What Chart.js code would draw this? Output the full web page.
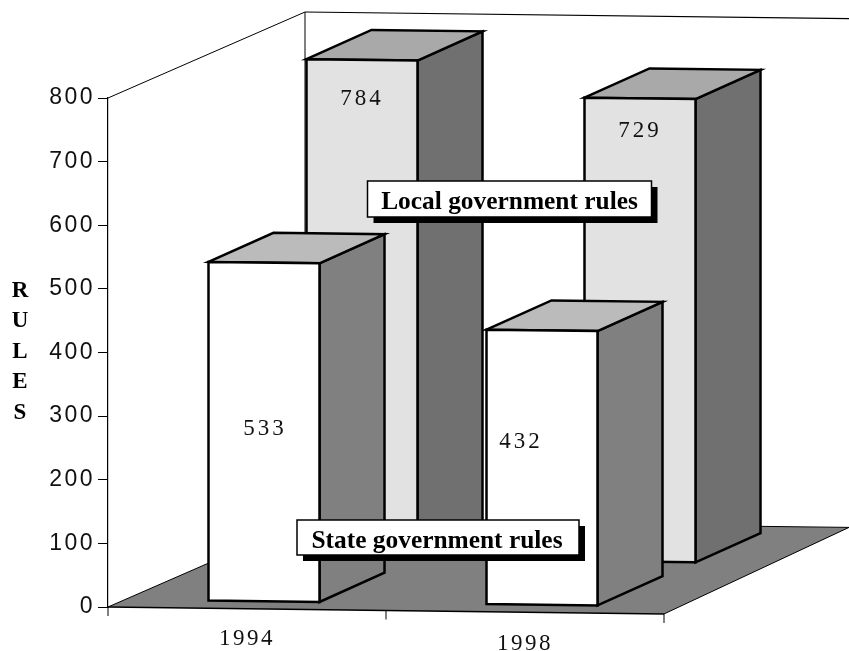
<!DOCTYPE html>
<html>
<head>
<meta charset="utf-8">
<title>Rules</title>
<script src="https://cdn.jsdelivr.net/npm/chart.js@4"></script>
<style>
  html, body { margin: 0; background: #fff; }
  #wrap { width: 849px; height: 651px; }
</style>
</head>
<body>
<div id="wrap"><canvas id="chartRules"></canvas></div>
<script>
// ====== DATA ======
const years = ['1994', '1998'];
const stateRules = [533, 432];
const localRules = [784, 729];
const seriesNames = ['State government rules', 'Local government rules'];
const yTicks = [0, 100, 200, 300, 400, 500, 600, 700, 800];
const axisTitle = ['R', 'U', 'L', 'E', 'S'];

// ====== LOOK ======
const SERIF = '"Liberation Serif", "Times New Roman", serif';
const SANS = '"Liberation Sans", Arial, sans-serif';
const SLOPE = 0.0125;          // the floor front edge runs slightly downhill
const DEPTH = { x: 65, y: -30 };
const FACES = [
    { front: '#ffffff', top: '#bbbbbb', side: '#808080', dx: 17, dy: -7.2 },
    { front: '#e2e2e2', top: '#a9a9a9', side: '#707070', dx: 115, dy: -51.5 },
];
// where the value text sits on each bar: offset from top-left-ish of the bar
const VALUE_POS = [
    [{ x: 1, y: 167 }, { x: -21, y: 112 }],
    [{ x: 0, y: 40 }, { x: 0, y: 33 }],
];
const BOXES = [
    { x: 297, y: 520, w: 282, h: 35, tx: 437, ty: 541 },
    { x: 367.5, y: 181, w: 284, h: 36, tx: 509.5, ty: 202 },
];

function poly(ctx, pts, fill, lw) {
    ctx.beginPath();
    pts.forEach((p, i) => i ? ctx.lineTo(p[0], p[1]) : ctx.moveTo(p[0], p[1]));
    ctx.closePath();
    if (fill) { ctx.fillStyle = fill; ctx.fill(); }
    if (lw) { ctx.lineWidth = lw; ctx.strokeStyle = '#000'; ctx.lineJoin = 'miter'; ctx.stroke(); }
}

function line(ctx, x1, y1, x2, y2, lw) {
    ctx.beginPath();
    ctx.moveTo(x1, y1);
    ctx.lineTo(x2, y2);
    ctx.lineWidth = lw;
    ctx.strokeStyle = '#000';
    ctx.stroke();
}

function spaced(ctx, text, x, y, font, spacing, color) {
    ctx.save();
    ctx.font = font;
    ctx.letterSpacing = spacing + 'px';
    ctx.fillStyle = color || '#111';
    ctx.textAlign = 'center';
    ctx.textBaseline = 'middle';
    ctx.fillText(text, x, y);
    ctx.restore();
}

// ====== 3D LOOK ======
const box3d = {
    id: 'box3d',
    beforeDraw(chart) {
        chart.ctx.letterSpacing = '2.5px';   // y tick labels are set wide
    },
    beforeDatasetsDraw(chart) {
        const ctx = chart.ctx;
        const { left, right, top, bottom } = chart.chartArea;
        const frontY = bottom + (right - left) * SLOPE;
        const backX = left + 197;
        const backBottom = bottom - 86;
        const backTop = top - 86;

        ctx.save();
        ctx.letterSpacing = '0px';
        poly(ctx, [[left, bottom], [right, frontY], [849, 527.4], [backX, backBottom]], '#808080');
        line(ctx, left, bottom, right, frontY, 1.5);
        line(ctx, right, frontY, 849, 527.4, 1);
        line(ctx, left, bottom, backX, backBottom, 1);
        line(ctx, backX, backBottom, 849, 527.4, 1);
        line(ctx, left, top, backX, backTop, 1);
        line(ctx, backX, backTop, 849, backTop + 544 * 0.012, 1.2);
        line(ctx, backX, backTop, backX, backBottom, 1);

        // category ticks follow the sloping front edge
        [left, (left + right) / 2, right].forEach(x => {
            const y = bottom + (x - left) * SLOPE;
            line(ctx, x, y, x, y + 9, 1);
        });
        ctx.restore();
    },
    beforeDatasetDraw(chart, args) {
        const ctx = chart.ctx;
        const face = FACES[args.index];
        const left = chart.chartArea.left;
        ctx.save();
        ctx.letterSpacing = '0px';
        args.meta.data.forEach((bar, i) => {
            const x1 = bar.x - bar.width / 2 + face.dx;
            const x2 = x1 + bar.width;
            const sy = x => face.dy + (x - left) * SLOPE;
            const tl = [x1, bar.y + sy(x1)];
            const tr = [x2, bar.y + sy(x2)];
            const bl = [x1, bar.base + sy(x1)];
            const br = [x2, bar.base + sy(x2)];
            const off = p => [p[0] + DEPTH.x, p[1] + DEPTH.y + DEPTH.x * SLOPE];
            poly(ctx, [tr, off(tr), off(br), br], face.side, 2.5);
            poly(ctx, [tl, off(tl), off(tr), tr], face.top, 2.5);
            poly(ctx, [tl, tr, br, bl], face.front, 2.5);

            const pos = VALUE_POS[args.index][i];
            const value = chart.data.datasets[args.index].data[i];
            spaced(ctx, String(value), (x1 + x2) / 2 + pos.x, tl[1] + pos.y, '23px ' + SERIF, 3);
        });
        ctx.restore();
        return false;
    },
    afterDatasetsDraw(chart) {
        const ctx = chart.ctx;
        ctx.save();
        ctx.letterSpacing = '0px';

        // series labels with their hard shadow
        BOXES.forEach((b, i) => {
            ctx.fillStyle = '#000';
            ctx.fillRect(b.x + 6, b.y + 6, b.w, b.h);
            poly(ctx, [[b.x, b.y], [b.x + b.w, b.y], [b.x + b.w, b.y + b.h], [b.x, b.y + b.h]], '#fff', 1.5);
            spaced(ctx, seriesNames[i], b.tx, b.ty, 'bold 25.4px ' + SERIF, 0, '#000');
        });

        // year labels sit under the sloping axis
        const xs = chart.scales.x;
        years.forEach((y, i) => {
            const px = xs.getPixelForValue(i);
            spaced(ctx, y, px, 639 + i * 4.5, '23px ' + SERIF, 2.5);
        });

        // stacked axis title
        axisTitle.forEach((ch, i) => {
            spaced(ctx, ch, 20, 291 + i * 30.4, 'bold 23px ' + SERIF, 0, '#000');
        });
        ctx.restore();
    },
};

// ====== CHART ======
new Chart(document.getElementById('chartRules'), {
    type: 'bar',
    data: {
        labels: years,
        datasets: [
            { label: seriesNames[0], data: stateRules, backgroundColor: FACES[0].front, borderColor: '#000', grouped: false, barThickness: 111 },
            { label: seriesNames[1], data: localRules, backgroundColor: FACES[1].front, borderColor: '#000', grouped: false, barThickness: 111 },
        ],
    },
    options: {
        responsive: true,
        maintainAspectRatio: false,
        animation: false,
        layout: { padding: { top: 98, right: 185, left: 0, bottom: 0 } },
        plugins: { legend: { display: false }, tooltip: { enabled: false } },
        scales: {
            x: {
                afterFit(scale) { scale.height = 44; },
                ticks: { display: false },
                grid: { display: false },
                border: { display: false },
            },
            y: {
                min: 0,
                max: yTicks[yTicks.length - 1],
                afterFit(scale) { scale.width = 108; },
                afterBuildTicks(scale) { scale.ticks = yTicks.map(v => ({ value: v })); },
                ticks: { font: { family: SANS, size: 23 }, color: '#111', padding: 3 },
                grid: { drawOnChartArea: false, tickLength: 10, color: '#000', lineWidth: 1 },
                border: { display: true, color: '#000', width: 1.2 },
            },
        },
    },
    plugins: [box3d],
});
</script>
</body>
</html>
